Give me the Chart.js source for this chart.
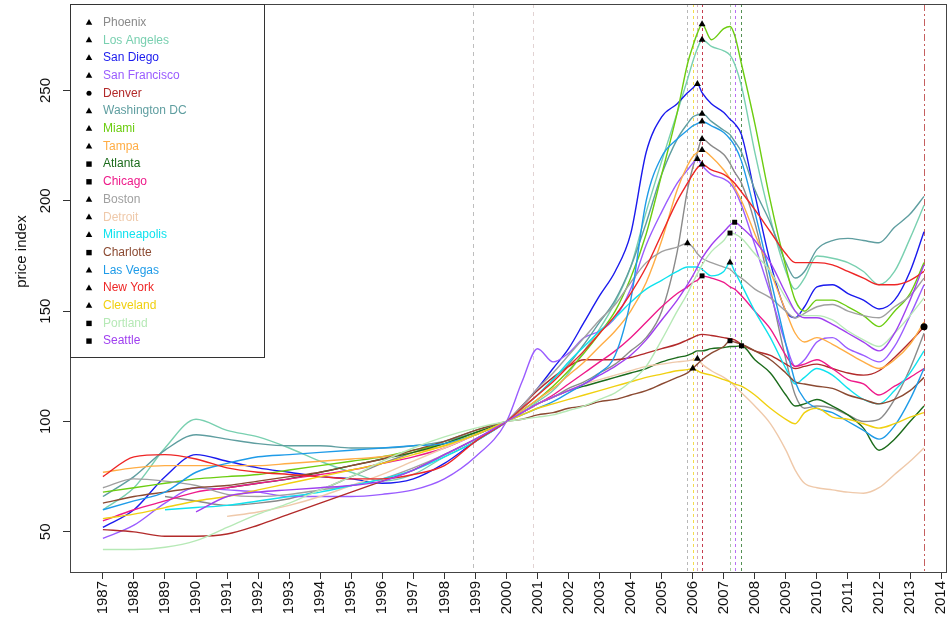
<!DOCTYPE html>
<html>
<head>
<meta charset="utf-8">
<title>price index</title>
<script src="https://cdn.jsdelivr.net/npm/chart.js@4.4.1/dist/chart.umd.min.js"></script>
<style>
  html, body { margin: 0; padding: 0; background: #fff; }
  #wrap { width: 951px; height: 626px; }
</style>
</head>
<body>
<div id="wrap"><canvas id="hpi"></canvas></div>
<script>
// sample dates, decimal years
var dates = [1987, 1988, 1989, 1990, 1991, 1992, 1993, 1994, 1995, 1996, 1997, 1998, 1999, 2000,
    2000.5, 2001, 2001.5, 2002, 2002.5, 2003, 2003.5, 2004, 2004.5, 2005, 2005.5,
    2005.83, 2006, 2006.15, 2006.3, 2006.6, 2007, 2007.2, 2007.35, 2007.57,
    2008, 2008.5, 2009, 2009.3, 2009.6, 2010, 2010.5, 2011, 2011.5, 2012, 2012.5, 2013, 2013.45];

var yearLabels = ["1987", "1988", "1989", "1990", "1991", "1992", "1993", "1994", "1995", "1996",
    "1997", "1998", "1999", "2000", "2001", "2002", "2003", "2004", "2005", "2006", "2007",
    "2008", "2009", "2010", "2011", "2012", "2013", "2014"];
var priceTicks = [50, 100, 150, 200, 250];

// extra dashed markers
var refDates = [1998.91, 2000.84];

var phoenix = [null, null, 66, 64, 62, 63, 65, 69, 75, 81, 86, 91, 96, 100,
    104, 108, 111, 115, 118, 122, 126, 132, 138, 150, 177,
    205, 215, 222, 228, 225, 221, 217, 213, 208,
    190, 160, 128, 112, 106, 107, 106, 103, 100, 101, 110, 124, 140];
var losAngeles = [60, 70, 88, 101, 96, 93, 88, 82, 77, 73, 76, 84, 91, 100,
    104, 109, 114, 122, 132, 142, 154, 170, 195, 218, 240,
    255, 263, 269, 273, 270, 268, 266, 262, 252,
    222, 192, 168, 160, 165, 175, 174, 172, 168, 162, 168, 183, 198];
var sanDiego = [52, 60, 75, 85, 82, 79, 77, 75, 74, 72, 74, 81, 91, 100,
    107, 115, 124, 133, 145, 157, 168, 185, 222, 238, 244,
    249, 251, 253, 249, 244, 240, 237, 235, 230,
    203, 172, 150, 147, 152, 161, 162, 158, 155, 151, 155, 168, 186];
var sanFrancisco = [47, 53, 63, 70, 69, 68, 66, 66, 66, 67, 69, 74, 84, 100,
    118, 133, 127, 131, 138, 141, 147, 160, 180, 195, 208,
    214, 217, 219, 216, 212, 210, 208, 205, 198,
    180, 158, 135, 125, 128, 136, 138, 133, 130, 127, 134, 148, 162];
var denver = [51, 50, 48, 48, 49, 53, 58, 63, 68, 73, 78, 85, 92, 100,
    107, 114, 120, 125, 128, 128, 128, 129, 131, 133, 135,
    137, 138, 139, 139.5, 139, 138, 137.5, 137, 135,
    132, 130, 126, 124, 125, 126, 124, 122, 121, 123, 129, 136, 142.9];
var washington = [66, 75, 87, 94, 92, 90, 89, 89, 88, 88, 89, 91, 95, 100,
    106, 112, 119, 126, 135, 145, 155, 170, 190, 212, 228,
    235, 238, 239, 239.5, 236, 232, 230, 227, 222,
    205, 190, 172, 165, 168, 178, 182, 183, 182, 181, 188, 194, 202];
var miami = [68, 70, 72, 74, 75, 76, 78, 80, 82, 84, 87, 90, 95, 100,
    105, 110, 116, 123, 131, 140, 150, 165, 185, 212, 240,
    262, 270, 276, 280, 273, 278, 279, 275, 262,
    235, 200, 170, 155, 150, 155, 155, 152, 148, 143, 150, 158, 172];
var tampa = [77, 79, 80, 80, 80, 80, 81, 82, 83, 84, 86, 89, 94, 100,
    105, 110, 115, 121, 127, 134, 141, 150, 163, 182, 205,
    216, 220, 222, 223, 220, 214, 210, 206, 200,
    185, 168, 150, 140, 136, 138, 135, 131, 127, 124, 128, 135, 145];
var atlanta = [null, null, null, null, 70, 72, 74, 77, 80, 83, 86, 90, 95, 100,
    104, 108, 111, 114, 116, 118, 120, 122, 124, 127, 129,
    130, 131, 132, 132, 133, 133.5, 134, 134, 134.3,
    128, 122, 112, 107, 108, 110, 107, 103, 97, 87, 92, 100, 107];
var chicago = [55, 60, 64, 68, 70, 72, 74, 76, 78, 81, 84, 88, 94, 100,
    104, 108, 112, 117, 122, 127, 132, 138, 145, 152, 158,
    161, 163, 164, 166, 165, 163, 161, 160, 157,
    150, 142, 130, 125, 126, 128, 124, 119, 117, 112, 116, 120, 124];
var boston = [70, 74, 73, 71, 67, 66, 67, 69, 71, 74, 79, 85, 92, 100,
    107, 115, 122, 130, 138, 146, 153, 163, 172, 177, 179,
    180.8, 179, 176, 174, 172, 170, 169, 167, 165,
    160, 156, 150, 147, 149, 152, 153, 150, 148, 147, 152, 157, 165];
var detroit = [null, null, null, null, 57, 59, 62, 66, 71, 76, 82, 88, 94, 100,
    104, 108, 111, 114, 117, 119, 121, 123, 125, 126, 127,
    127.5, 128, 128.4, 126, 123, 120, 118, 116, 113,
    107, 99, 87, 78, 72, 70, 69, 68, 67.5, 70, 76, 82, 88];
var minneapolis = [null, null, 60, 61, 62, 64, 66, 68, 71, 74, 78, 84, 91, 100,
    106, 112, 119, 127, 134, 141, 147, 154, 160, 164, 168,
    170, 170, 170, 169, 166, 168, 172, 168, 162,
    150, 138, 124, 117, 120, 124, 121, 115, 110, 108, 114, 122, 132];
var charlotte = [63, 66, 68, 70, 71, 73, 75, 77, 80, 83, 87, 91, 96, 100,
    101, 103, 104, 106, 107, 109, 110, 112, 114, 117, 120,
    122, 124, 126, 128, 131, 134, 136.6, 136, 135,
    132, 128, 122, 118, 117, 116, 115, 112, 110, 108, 110, 114, 120];
var lasVegas = [60, 64, 68, 77, 81, 84, 85, 86, 87, 88, 89, 90, 94, 100,
    103, 106, 109, 113, 117, 122, 130, 155, 200, 220, 228,
    232, 234, 235, 236, 234, 231, 228, 225, 218,
    195, 165, 135, 118, 110, 106, 104, 100, 96, 92, 98, 110, 124];
var newYork = [75, 84, 85, 83, 79, 77, 76, 75, 74, 74, 76, 80, 91, 100,
    106, 112, 118, 125, 132, 140, 148, 158, 170, 185, 200,
    208, 212, 215, 216.5, 214, 212, 210, 208, 204,
    196, 186, 176, 172, 172, 172, 171, 168, 165, 162, 162, 164, 168];
var cleveland = [56, 58, 61, 64, 66, 69, 72, 75, 78, 81, 85, 89, 94, 100,
    103, 106, 108, 110, 112, 114, 116, 118, 120, 121.5, 123,
    123.5, 124, 123, 122, 121, 119, 118, 117, 116,
    112, 106, 101, 99, 104, 106, 102, 101, 99, 97, 99, 102, 104];
var portland = [42, 42, 43, 46, 52, 58, 63, 69, 75, 82, 88, 93, 97, 100,
    101, 102, 103, 105, 107, 110, 113, 118, 125, 137, 150,
    158, 163, 167, 171, 177, 182, 185.4, 185, 183,
    176, 168, 156, 150, 148, 148, 146, 141, 137, 134, 140, 148, 156];
var seattle = [null, null, null, 59, 66, 68, 69, 70, 71, 73, 78, 85, 92, 100,
    104, 108, 111, 114, 117, 121, 125, 130, 137, 146, 155,
    162, 166, 170, 174, 180, 186, 189, 190.3, 188,
    182, 172, 158, 150, 147, 147, 144, 140, 136, 132, 140, 155, 171];

var cityNames = ["Phoenix", "Los Angeles", "San Diego", "San Francisco", "Denver", "Washington DC",
    "Miami", "Tampa", "Atlanta", "Chicago", "Boston", "Detroit", "Minneapolis", "Charlotte",
    "Las Vegas", "New York", "Cleveland", "Portland", "Seattle"];
var cityValues = [phoenix, losAngeles, sanDiego, sanFrancisco, denver, washington, miami, tampa,
    atlanta, chicago, boston, detroit, minneapolis, charlotte, lasVegas, newYork, cleveland,
    portland, seattle];

var cityColors = ["#8a8a8a", "#79d0b0", "#1a1aee", "#9a5cff", "#b22a2a", "#5f9ea0", "#6ccd10",
    "#ffad45", "#1b6b1b", "#ee1a8a", "#a0a0a0", "#efc9aa", "#10e2ee", "#8b4a32", "#1e9be8",
    "#ee2626", "#f0d010", "#b6e9b6", "#a040f0"];
var citySymbols = ["triangle", "triangle", "triangle", "triangle", "circle", "triangle", "triangle",
    "triangle", "rect", "rect", "triangle", "triangle", "triangle", "rect", "triangle",
    "triangle", "triangle", "rect", "rect"];

var FONT = "'Liberation Sans', Arial, Helvetica, sans-serif";
Chart.defaults.font.family = FONT;

// highest point of every series
var peaks = cityValues.map(function (vals) {
    var best = 0;
    vals.forEach(function (v, i) {
        if (v !== null && (vals[best] === null || v > vals[best])) best = i;
    });
    return { x: dates[best], y: vals[best] };
});

var datasets = [];
cityValues.forEach(function (vals, i) {
    var pts = [];
    vals.forEach(function (v, j) {
        if (v !== null) pts.push({ x: dates[j], y: v });
    });
    datasets.push({
        label: cityNames[i],
        data: pts,
        borderColor: cityColors[i],
        borderWidth: 1.4,
        pointRadius: 0,
        fill: false,
        cubicInterpolationMode: 'monotone',
        order: -i
    });
});
peaks.forEach(function (p, i) {
    datasets.push({
        type: 'scatter',
        label: cityNames[i] + ' peak',
        data: [p],
        pointStyle: citySymbols[i],
        pointRadius: citySymbols[i] === 'triangle' ? 4 : 3.5,
        backgroundColor: '#000',
        borderColor: '#000',
        borderWidth: 0,
        order: -100
    });
});

function symbol(ctx, kind, x, y, r) {
    ctx.beginPath();
    if (kind === 'triangle') {
        ctx.moveTo(x, y - r);
        ctx.lineTo(x + r * 0.9, y + r * 0.6);
        ctx.lineTo(x - r * 0.9, y + r * 0.6);
        ctx.closePath();
    } else if (kind === 'rect') {
        ctx.rect(x - r * 0.75, y - r * 0.75, r * 1.5, r * 1.5);
    } else {
        ctx.arc(x, y, r * 0.7, 0, Math.PI * 2);
    }
    ctx.fill();
}

// dashed verticals at each peak
var peakLines = {
    id: 'peakLines',
    beforeDatasetsDraw: function (chart) {
        var ctx = chart.ctx, area = chart.chartArea, xs = chart.scales.x;
        function vline(d, color, dash) {
            var x = Math.round(xs.getPixelForValue(d)) + 0.5;
            ctx.strokeStyle = color;
            ctx.setLineDash(dash);
            ctx.beginPath();
            ctx.moveTo(x, area.top);
            ctx.lineTo(x, area.bottom);
            ctx.stroke();
        }
        ctx.save();
        ctx.lineWidth = 1;
        ctx.globalAlpha = 0.75;
        vline(refDates[0], '#a8a8a8', [4, 4]);
        vline(refDates[1], '#d8c4c4', [4, 4]);
        peaks.forEach(function (p, i) {
            vline(p.x, cityColors[i], cityNames[i] === 'Denver' ? [7, 3, 2, 3] : [3, 3]);
        });
        ctx.restore();
    }
};

// frame, rotated axis text and the legend box
var frame = {
    id: 'frame',
    afterDraw: function (chart) {
        var ctx = chart.ctx, area = chart.chartArea, ys = chart.scales.y;
        ctx.save();
        ctx.strokeStyle = '#444';
        ctx.lineWidth = 1;
        ctx.strokeRect(area.left + 0.5, area.top + 0.5, area.right - area.left - 1, area.bottom - area.top);

        ctx.fillStyle = '#111';
        ctx.font = '15px ' + FONT;
        ctx.textAlign = 'center';
        ctx.textBaseline = 'middle';
        priceTicks.forEach(function (v) {
            ctx.save();
            ctx.translate(area.left - 24, ys.getPixelForValue(v));
            ctx.rotate(-Math.PI / 2);
            ctx.fillText(String(v), 0, 0);
            ctx.restore();
        });
        ctx.save();
        ctx.translate(22, ys.getPixelForValue(177));
        ctx.rotate(-Math.PI / 2);
        ctx.fillText('price index', 0, 0);
        ctx.restore();

        // legend
        var lx = area.left, ly = area.top, lw = 194, lh = 353;
        ctx.fillStyle = '#fff';
        ctx.fillRect(lx + 0.5, ly + 0.5, lw, lh);
        ctx.strokeStyle = '#333';
        ctx.strokeRect(lx + 0.5, ly + 0.5, lw, lh);
        ctx.font = '12px ' + FONT;
        ctx.textAlign = 'left';
        cityNames.forEach(function (name, i) {
            var y = ly + 18.5 + i * 17.7;
            ctx.fillStyle = '#000';
            symbol(ctx, citySymbols[i], lx + 19, y, 3.6);
            ctx.fillStyle = cityColors[i];
            ctx.fillText(name, lx + 33, y);
        });
        ctx.restore();
    }
};

var ctx = document.getElementById('hpi').getContext('2d');
var chart = new Chart(ctx, {
    type: 'line',
    data: { datasets: datasets },
    options: {
        responsive: true,
        maintainAspectRatio: false,
        animation: false,
        devicePixelRatio: 1,
        layout: { padding: { top: 1, right: 2, bottom: 0, left: 0 } },
        plugins: {
            legend: { display: false },
            tooltip: { enabled: false }
        },
        scales: {
            x: {
                type: 'linear',
                min: 1985.94,
                max: 2014.19,
                afterBuildTicks: function (scale) {
                    scale.ticks = yearLabels.map(function (l) { return { value: Number(l) }; });
                },
                afterFit: function (scale) {
                    scale.height = 54;
                    scale.paddingLeft = 0;
                    scale.paddingRight = 0;
                },
                ticks: {
                    autoSkip: false,
                    minRotation: 90,
                    maxRotation: 90,
                    padding: 2,
                    color: '#111',
                    font: { size: 15 },
                    callback: function (v, i) { return yearLabels[i]; }
                },
                grid: { drawOnChartArea: false, drawTicks: true, tickLength: 7, color: '#333' },
                border: { display: false }
            },
            y: {
                type: 'linear',
                min: 31.8,
                max: 289.2,
                afterBuildTicks: function (scale) {
                    scale.ticks = priceTicks.map(function (v) { return { value: v }; });
                },
                afterFit: function (scale) {
                    scale.width = 70;
                    scale.paddingTop = 0;
                    scale.paddingBottom = 0;
                },
                ticks: { display: false },
                grid: { drawOnChartArea: false, drawTicks: true, tickLength: 7, color: '#333' },
                border: { display: false }
            }
        }
    },
    plugins: [peakLines, frame]
});
</script>
</body>
</html>
